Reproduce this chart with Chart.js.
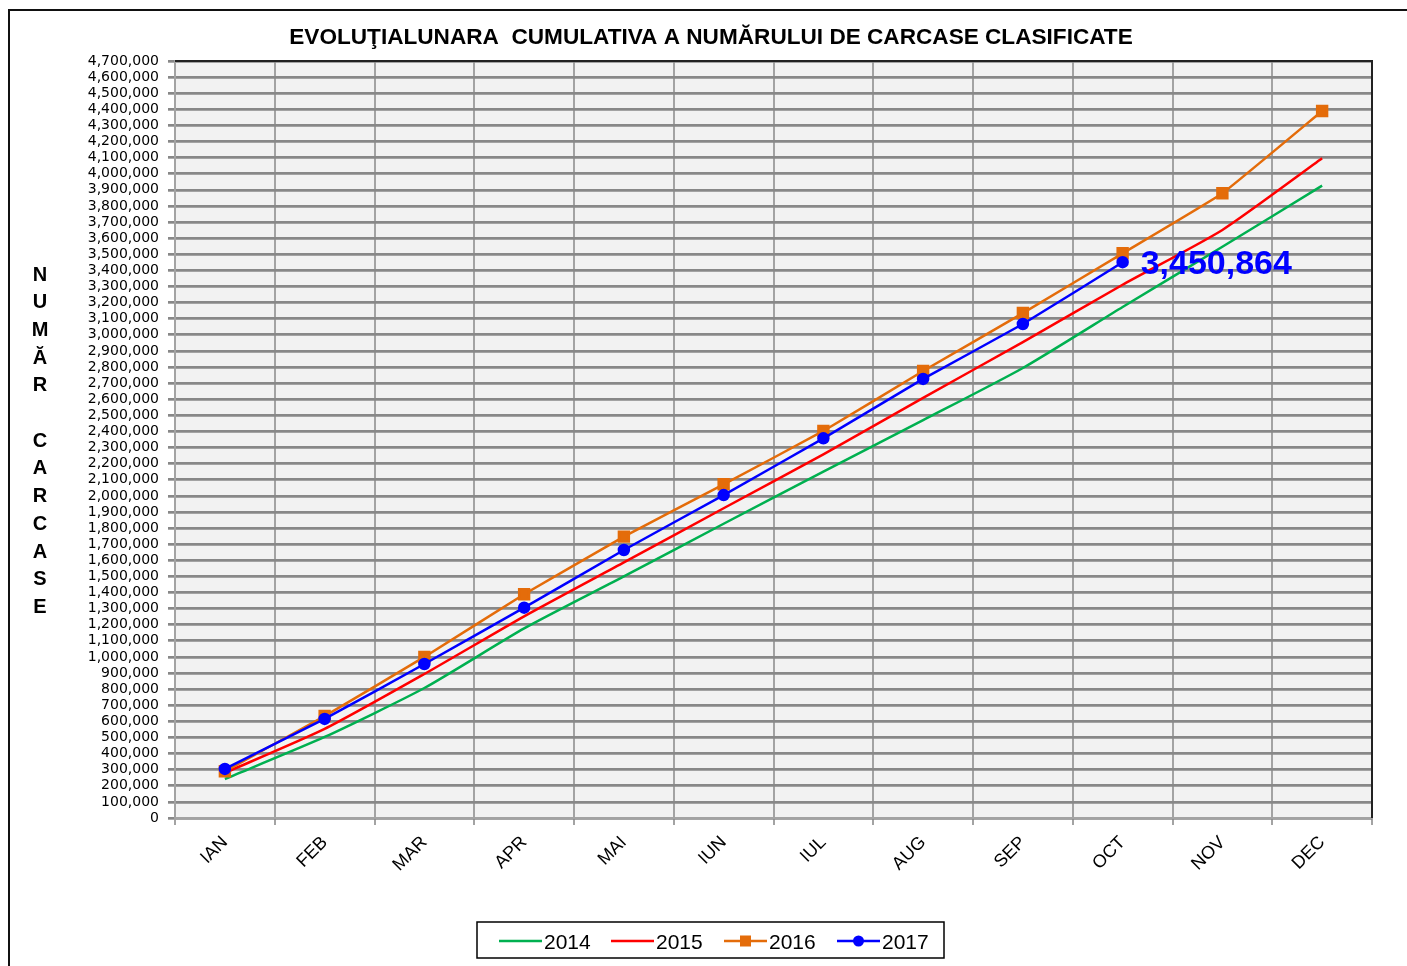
<!DOCTYPE html>
<html>
<head>
<meta charset="utf-8">
<script src="https://cdn.jsdelivr.net/npm/chart.js@4.4.1/dist/chart.umd.min.js"></script>
<style>
html,body{margin:0;padding:0;background:#fff;}
#wrap{position:absolute;left:0;top:0;width:1407px;height:966px;}
</style>
</head>
<body>
<div id="wrap"><canvas id="c" width="1407" height="966"></canvas></div>
<script>
const months = ['IAN','FEB','MAR','APR','MAI','IUN','IUL','AUG','SEP','OCT','NOV','DEC'];
const years = ['2014','2015','2016','2017'];
const s2014 = [242000, 503000, 807000, 1177000, 1500000, 1827000, 2150000, 2470000, 2794000, 3173000, 3547000, 3926000];
const s2015 = [280000, 553000, 894000, 1252000, 1587000, 1923000, 2258000, 2608000, 2955000, 3311000, 3651000, 4096000];
const s2016 = [290000, 633000, 1000000, 1389000, 1747000, 2072000, 2403000, 2775000, 3135000, 3506000, 3879000, 4390000];
const s2017 = [305000, 615000, 956000, 1306000, 1664000, 2005000, 2357000, 2726000, 3067000, 3450864, null, null];
const yMax = 4700000;
const yStep = 100000;
const chartTitle = 'EVOLUŢIALUNARA  CUMULATIVA A NUMĂRULUI DE CARCASE CLASIFICATE';
const yTitleLetters = ['N','U','M','Ă','R','','C','A','R','C','A','S','E'];
const labelIndex = 9; // OCT point of 2017 is labelled

const fmt = v => v.toLocaleString('en-US');

const decor = {
  id: 'decor',
  beforeDraw(chart) {
    const {ctx, chartArea: a} = chart;
    ctx.save();
    ctx.fillStyle = '#f2f2f2';
    ctx.fillRect(a.left, a.top, a.right - a.left, a.bottom - a.top);
    ctx.restore();
  },
  beforeDatasetsDraw(chart) {
    const {ctx, chartArea: a} = chart;
    ctx.save();
    ctx.strokeStyle = '#222';
    ctx.lineWidth = 2;
    ctx.beginPath();
    ctx.moveTo(a.left, a.top);
    ctx.lineTo(a.right, a.top);
    ctx.lineTo(a.right, a.bottom);
    ctx.stroke();
    ctx.restore();
  },
  afterDraw(chart) {
    const {ctx} = chart;
    ctx.save();
    // outer frame
    ctx.strokeStyle = '#111';
    ctx.lineWidth = 2;
    ctx.beginPath();
    ctx.moveTo(9, 966);
    ctx.lineTo(9, 10);
    ctx.lineTo(1407, 10);
    ctx.stroke();
    // title
    ctx.fillStyle = '#000';
    ctx.font = 'bold 22.6px "Liberation Sans", Arial, sans-serif';
    ctx.textAlign = 'center';
    ctx.textBaseline = 'middle';
    ctx.fillText(chartTitle, 711, 38);
    // vertical y title
    ctx.font = 'bold 20px "Liberation Sans", Arial, sans-serif';
    yTitleLetters.forEach((ch, i) => {
      if (ch) ctx.fillText(ch, 40, 275 + i * 27.7);
    });
    // data label
    const meta = chart.getDatasetMeta(3);
    const pt = meta.data[labelIndex];
    ctx.fillStyle = '#0000ff';
    ctx.font = 'bold 34px "Liberation Sans", Arial, sans-serif';
    ctx.textAlign = 'left';
    ctx.fillText(fmt(chart.data.datasets[3].data[labelIndex]), pt.x + 18, pt.y + 2);
    // legend
    const lx = 477, ly = 922, lw = 467, lh = 36;
    ctx.fillStyle = '#fff';
    ctx.fillRect(lx, ly, lw, lh);
    ctx.strokeStyle = '#000';
    ctx.lineWidth = 1.5;
    ctx.strokeRect(lx, ly, lw, lh);
    const starts = [499, 611, 724, 837];
    const cy = ly + lh / 2 + 1;
    ctx.font = '21px "Liberation Sans", Arial, sans-serif';
    ctx.textBaseline = 'middle';
    chart.data.datasets.forEach((ds, i) => {
      const x0 = starts[i];
      ctx.strokeStyle = ds.borderColor;
      ctx.lineWidth = 2.5;
      ctx.beginPath();
      ctx.moveTo(x0, cy);
      ctx.lineTo(x0 + 43, cy);
      ctx.stroke();
      if (ds.pointRadius > 0) {
        ctx.fillStyle = ds.pointBackgroundColor;
        if (ds.pointStyle === 'rect') {
          ctx.fillRect(x0 + 21.5 - 5.5, cy - 5.5, 11, 11);
        } else {
          ctx.beginPath();
          ctx.arc(x0 + 21.5, cy, 5.5, 0, Math.PI * 2);
          ctx.fill();
        }
      }
      ctx.fillStyle = '#000';
      ctx.fillText(ds.label, x0 + 45, cy + 2);
    });
    ctx.restore();
  }
};

new Chart(document.getElementById('c'), {
  type: 'line',
  data: {
    labels: months,
    datasets: [
      {label: years[0], data: s2014, order: 3, borderColor: '#00b050', backgroundColor: '#00b050', borderWidth: 2.5, pointRadius: 0, tension: 0.2},
      {label: years[1], data: s2015, order: 2, borderColor: '#ff0000', backgroundColor: '#ff0000', borderWidth: 2.5, pointRadius: 0, tension: 0.2},
      {label: years[2], data: s2016, order: 1, borderColor: '#e46c0a', backgroundColor: '#e46c0a', pointBackgroundColor: '#e46c0a', pointBorderColor: '#e46c0a', borderWidth: 2.5, pointRadius: 7, pointStyle: 'rect', tension: 0.1},
      {label: years[3], data: s2017, order: 0, borderColor: '#0000ff', backgroundColor: '#0000ff', pointBackgroundColor: '#0000ff', pointBorderColor: '#0000ff', borderWidth: 2.5, pointRadius: 5, pointStyle: 'circle', tension: 0.1}
    ]
  },
  options: {
    responsive: false,
    animation: false,
    events: [],
    layout: {padding: {top: 61, right: 35, left: 0, bottom: 0}},
    plugins: {legend: {display: false}, title: {display: false}, tooltip: {enabled: false}},
    scales: {
      x: {
        offset: true,
        grid: {offset: true, color: '#a3a3a3', lineWidth: 2, tickLength: 7, drawTicks: true},
        border: {color: '#a3a3a3', width: 2},
        ticks: {color: '#000', font: {family: '"Liberation Sans", Arial, sans-serif', size: 18}, minRotation: 45, maxRotation: 45, autoSkip: false, padding: 7},
        afterFit(scale) { scale.height = 148; }
      },
      y: {
        min: 0, max: yMax,
        grid: {color: '#888888', lineWidth: 2.7, tickLength: 7},
        border: {color: '#a3a3a3', width: 2},
        ticks: {stepSize: yStep, autoSkip: false, color: '#000', padding: 9,
          font: {family: '"DejaVu Sans", sans-serif', size: 14},
          callback: v => fmt(v)},
        afterFit(scale) { scale.width = 175; }
      }
    }
  },
  plugins: [decor]
});
</script>
</body>
</html>
